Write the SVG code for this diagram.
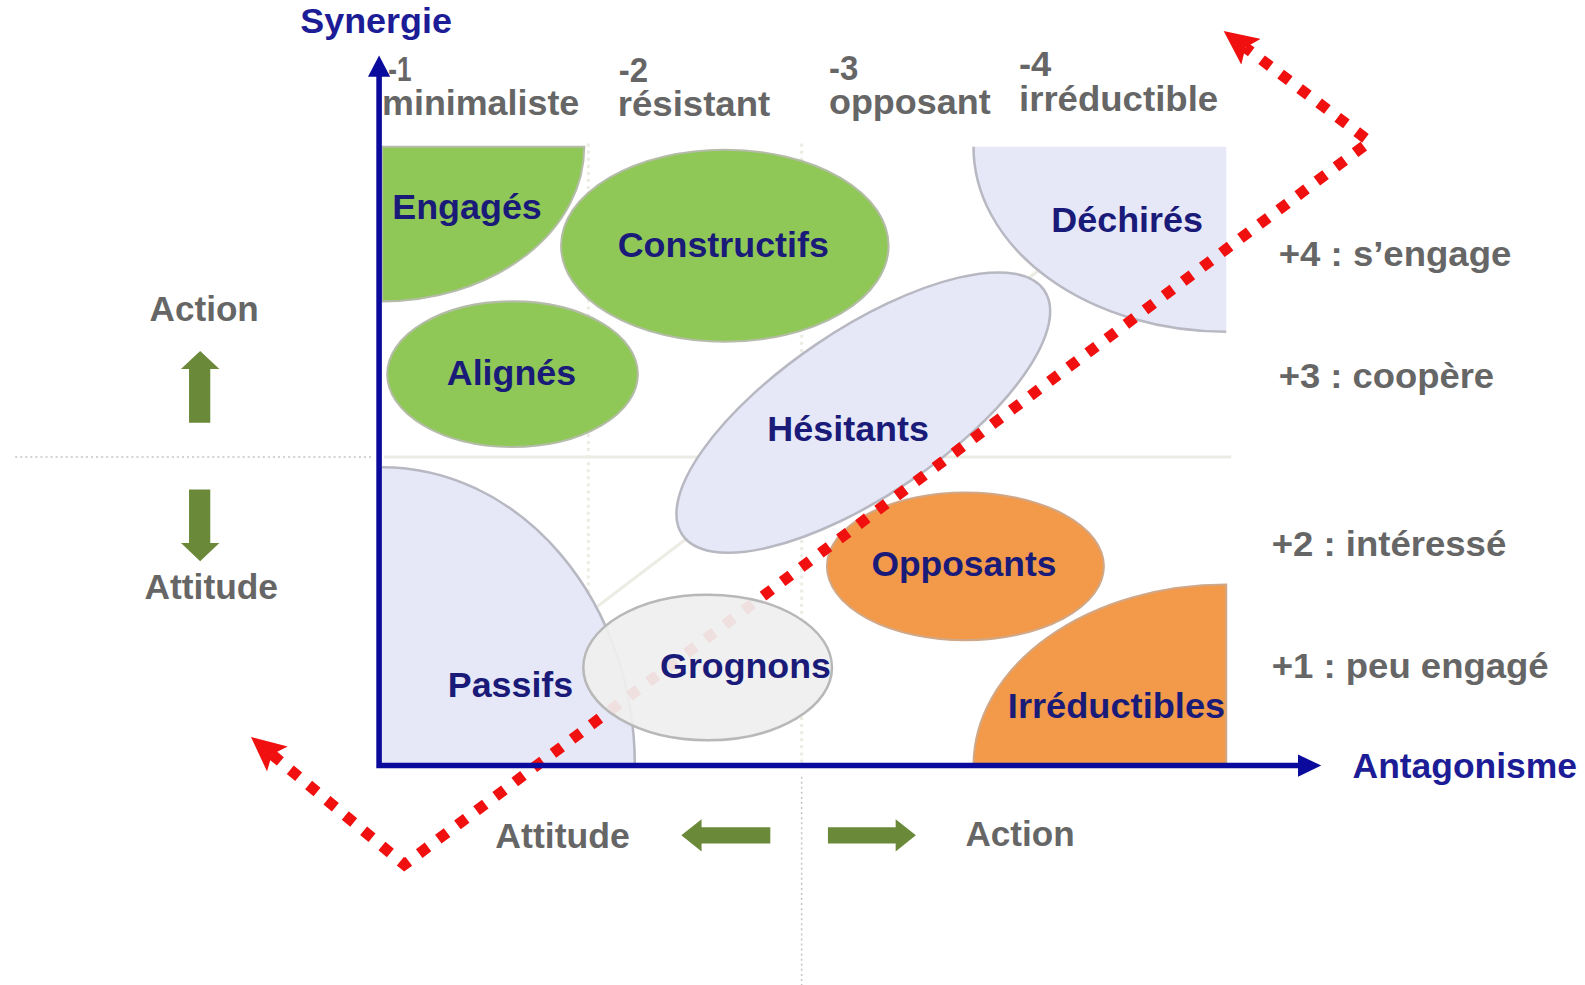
<svg xmlns="http://www.w3.org/2000/svg" width="1585" height="985" viewBox="0 0 1585 985">
  <style>
    .lbl { font-family: "Liberation Sans", Arial, sans-serif; font-weight: bold; font-size: 34px; }
    .node { fill: #1a1a78; }
    .axis-t { fill: #1c1c96; }
    .grey { fill: #666666; }
    .green { fill: #90c858; stroke: #b4bca8; stroke-width: 2; }
    .lav { fill: #e6e8f8; }
    .lav-edge { fill: none; stroke: #b8b8c2; stroke-width: 2.5; }
    .orange { fill: #f29a4a; stroke: #d0a888; stroke-width: 2; }
    .move { fill: #6a8a3a; }
    .grid-dot { stroke: #c4c4c4; stroke-width: 1.5; stroke-dasharray: 2 3; fill: none; }
    .grid-faint { stroke: #ecece4; stroke-width: 3; fill: none; }
  </style>
  <defs>
    <marker id="redHead" viewBox="0 0 34 32" refX="7" refY="16" markerWidth="34" markerHeight="32" markerUnits="userSpaceOnUse" orient="auto-start-reverse">
      <path d="M0,0 L34,16 L0,32 L7,16 Z" fill="#f01010"/>
    </marker>
  </defs>
  <rect width="1585" height="985" fill="#ffffff"/>

  <g transform="scale(1.0109,1.0113)">
    <!-- background grid -->
    <g id="grid">
      <line class="grid-dot" x1="15" y1="452" x2="370" y2="452"/>
      <line class="grid-faint" x1="380" y1="452" x2="1218" y2="452"/>
      <line class="grid-dot" x1="793" y1="768" x2="793" y2="975"/>
      <line class="grid-faint" x1="793" y1="142" x2="793" y2="757" stroke-dasharray="3 4"/>
      <line class="grid-faint" x1="582" y1="142" x2="582" y2="590" stroke-dasharray="3 4"/>
      <line class="grid-faint" x1="588" y1="602" x2="1032" y2="264"/>
    </g>

    <!-- quadrant groups -->
    <g id="engages">
      <path class="green" d="M378,145 H578 A200,153 0 0 1 378,298 Z"/>
      <text class="lbl node" x="388" y="217" textLength="148" lengthAdjust="spacingAndGlyphs">Engagés</text>
    </g>
    <g id="constructifs">
      <ellipse class="green" cx="717" cy="243" rx="162" ry="95"/>
      <text class="lbl node" x="611" y="254" textLength="209" lengthAdjust="spacingAndGlyphs">Constructifs</text>
    </g>
    <g id="alignes">
      <ellipse class="green" cx="507" cy="370" rx="124" ry="72"/>
      <text class="lbl node" x="442" y="381" textLength="128" lengthAdjust="spacingAndGlyphs">Alignés</text>
    </g>
    <g id="dechires">
      <path class="lav" d="M1213,145 V328 A250,183 0 0 1 963,145 Z"/>
      <path class="lav-edge" d="M1213,328 A250,183 0 0 1 963,145"/>
      <text class="lbl node" x="1040" y="229" textLength="150" lengthAdjust="spacingAndGlyphs">Déchirés</text>
    </g>
    <g id="hesitants">
      <ellipse class="lav" cx="854" cy="408" rx="216" ry="82" transform="rotate(-34 854 408)" stroke="#b8b8c2" stroke-width="2.5"/>
      <text class="lbl node" x="759" y="436" textLength="160" lengthAdjust="spacingAndGlyphs">Hésitants</text>
    </g>
    <g id="passifs">
      <path class="lav" d="M378,757 V462 A250,295 0 0 1 628,757 Z"/>
      <path class="lav-edge" d="M378,462 A250,295 0 0 1 628,757"/>
      <text class="lbl node" x="443" y="689" textLength="124" lengthAdjust="spacingAndGlyphs">Passifs</text>
    </g>
    <g id="opposants">
      <ellipse class="orange" cx="955" cy="560" rx="137" ry="73"/>
      <text class="lbl node" x="862" y="570" textLength="183" lengthAdjust="spacingAndGlyphs">Opposants</text>
    </g>
    <g id="irreductibles">
      <path class="orange" d="M1213,757 H963 A250,179 0 0 1 1213,578 Z" stroke="none"/>
      <text class="lbl node" x="997" y="710" textLength="215" lengthAdjust="spacingAndGlyphs">Irréductibles</text>
    </g>

    <!-- red dotted trajectory -->
    <g id="connectors">
      <path d="M269,746 L400,855 L1355,140 L1232,47" fill="none" stroke="#f01010" stroke-width="10.8" stroke-dasharray="10.8 12.8" marker-start="url(#redHead)" marker-end="url(#redHead)"/>
    </g>

    <g id="grognons">
      <ellipse cx="700" cy="660" rx="123" ry="72" fill="#efefef" fill-opacity="0.93" stroke="#b8b8b8" stroke-width="2.5"/>
      <text class="lbl node" x="653" y="670" textLength="169" lengthAdjust="spacingAndGlyphs">Grognons</text>
    </g>

    <!-- axes -->
    <g id="axes">
      <path d="M375,74 V757 H1285" fill="none" stroke="#0a0a9c" stroke-width="5.5"/>
      <path d="M375,55 L386,76 L364,76 Z" fill="#0a0a9c"/>
      <path d="M1307,757 L1284,746 L1284,768 Z" fill="#0a0a9c"/>
      <text class="lbl axis-t" x="297" y="33" textLength="150" lengthAdjust="spacingAndGlyphs">Synergie</text>
      <text class="lbl axis-t" x="1338" y="769" textLength="222" lengthAdjust="spacingAndGlyphs">Antagonisme</text>
    </g>

    <!-- column scale -->
    <g id="columns">
      <text class="lbl grey" x="384" y="80" textLength="23" lengthAdjust="spacingAndGlyphs">-1</text>
      <text class="lbl grey" x="378" y="114" textLength="195" lengthAdjust="spacingAndGlyphs">minimaliste</text>
      <text class="lbl grey" x="612" y="81" textLength="29" lengthAdjust="spacingAndGlyphs">-2</text>
      <text class="lbl grey" x="611" y="115" textLength="151" lengthAdjust="spacingAndGlyphs">résistant</text>
      <text class="lbl grey" x="820" y="79" textLength="29" lengthAdjust="spacingAndGlyphs">-3</text>
      <text class="lbl grey" x="820" y="113" textLength="160" lengthAdjust="spacingAndGlyphs">opposant</text>
      <text class="lbl grey" x="1008" y="75" textLength="32" lengthAdjust="spacingAndGlyphs">-4</text>
      <text class="lbl grey" x="1008" y="110" textLength="197" lengthAdjust="spacingAndGlyphs">irréductible</text>
    </g>

    <!-- row scale -->
    <g id="rows">
      <text class="lbl grey" x="1265" y="263" textLength="230" lengthAdjust="spacingAndGlyphs">+4 : s’engage</text>
      <text class="lbl grey" x="1265" y="384" textLength="213" lengthAdjust="spacingAndGlyphs">+3 : coopère</text>
      <text class="lbl grey" x="1258" y="550" textLength="232" lengthAdjust="spacingAndGlyphs">+2 : intéressé</text>
      <text class="lbl grey" x="1258" y="670" textLength="274" lengthAdjust="spacingAndGlyphs">+1 : peu engagé</text>
    </g>

    <!-- vertical direction legend -->
    <g id="legend-vertical">
      <text class="lbl grey" x="148" y="317" textLength="108" lengthAdjust="spacingAndGlyphs">Action</text>
      <path class="move" d="M198,347 L217,365 L208,365 L208,418 L187,418 L187,365 L179,365 Z"/>
      <path class="move" d="M198,555 L217,537 L208,537 L208,484 L187,484 L187,537 L179,537 Z"/>
      <text class="lbl grey" x="143" y="592" textLength="132" lengthAdjust="spacingAndGlyphs">Attitude</text>
    </g>

    <!-- horizontal direction legend -->
    <g id="legend-horizontal">
      <text class="lbl grey" x="490" y="839" textLength="133" lengthAdjust="spacingAndGlyphs">Attitude</text>
      <path class="move" d="M674,826 L694,810 L694,818 L762,818 L762,834 L694,834 L694,842 Z"/>
      <path class="move" d="M906,826 L886,810 L886,818 L819,818 L819,834 L886,834 L886,842 Z"/>
      <text class="lbl grey" x="955" y="837" textLength="108" lengthAdjust="spacingAndGlyphs">Action</text>
    </g>
  </g>
</svg>
